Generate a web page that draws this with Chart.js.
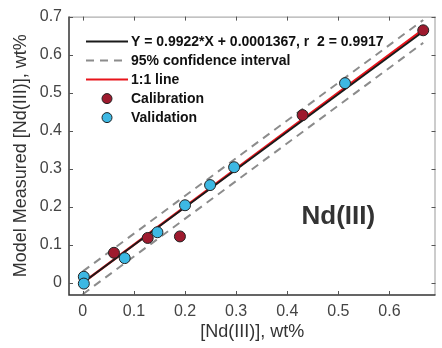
<!DOCTYPE html>
<html>
<head>
<meta charset="utf-8">
<script src="https://cdn.jsdelivr.net/npm/chart.js@4/dist/chart.umd.min.js"></script>
<style>
  html, body { margin: 0; padding: 0; background: #fff; }
  #wrap { width: 442px; height: 348px; }
</style>
</head>
<body>
<div id="wrap"><canvas id="graphique" width="442" height="348"></canvas></div>
<script>
/** Tick labels */
const xTicks = [0, 0.1, 0.2, 0.3, 0.4, 0.5, 0.6];
const yTicks = [0, 0.1, 0.2, 0.3, 0.4, 0.5, 0.6, 0.7];

/** Points */
const calX = [0.061, 0.127, 0.190, 0.430, 0.666];
const calY = [0.079, 0.118, 0.122, 0.441, 0.664];
const valX = [0.002, 0.002, 0.082, 0.146, 0.200, 0.249, 0.296, 0.513];
const valY = [0.016, -0.002, 0.065, 0.133, 0.204, 0.257, 0.304, 0.525];

/** Line endpoints */
const lineX = [0, 0.666];
const fitY = [0.0001, 0.661];
const oneY = [0, 0.666];
const ciUpY = [0.030, 0.691];
const ciLoY = [-0.030, 0.631];

const fitLabel = 'Y = 0.9922*X + 0.0001367, r  2 = 0.9917';
const annotation = 'Nd(III)';

const pts = (xs, ys) => xs.map((x, i) => ({ x: x, y: ys[i] }));

const police = 'Liberation Sans, Arial, sans-serif';

/** Box, inward ticks, legend and label */
const cadre = {
  id: 'cadre',
  afterDraw(chart) {
    const ctx = chart.ctx;
    const a = chart.chartArea;
    const sx = chart.scales.x;
    const sy = chart.scales.y;
    ctx.save();
    // box
    ctx.lineWidth = 1;
    ctx.strokeStyle = '#999';
    ctx.beginPath();
    ctx.moveTo(a.left, a.top + 0.5); ctx.lineTo(a.right, a.top + 0.5);
    ctx.moveTo(a.right - 0.5, a.top); ctx.lineTo(a.right - 0.5, a.bottom);
    ctx.stroke();
    ctx.lineWidth = 1.5;
    ctx.strokeStyle = '#333';
    ctx.beginPath();
    ctx.moveTo(a.left, a.top); ctx.lineTo(a.left, a.bottom); ctx.lineTo(a.right, a.bottom);
    ctx.stroke();
    // ticks
    ctx.lineWidth = 1;
    ctx.strokeStyle = '#555';
    ctx.beginPath();
    xTicks.forEach(v => {
      const px = Math.round(sx.getPixelForValue(v)) + 0.5;
      ctx.moveTo(px, a.bottom); ctx.lineTo(px, a.bottom - 4);
      ctx.moveTo(px, a.top); ctx.lineTo(px, a.top + 4);
    });
    yTicks.forEach(v => {
      const py = Math.round(sy.getPixelForValue(v)) + 0.5;
      ctx.moveTo(a.left, py); ctx.lineTo(a.left + 4, py);
      ctx.moveTo(a.right, py); ctx.lineTo(a.right - 4, py);
    });
    ctx.stroke();

    // legend
    const lx = a.left + 17;
    let ly = a.top + 25;
    const pas = 19;
    ctx.font = 'bold 14px ' + police;
    ctx.textBaseline = 'middle';
    ctx.fillStyle = '#111';
    chart.data.datasets.forEach(ds => {
      if (!ds.legende) { return; }
      if (ds.showLine) {
        ctx.lineWidth = 2;
        ctx.strokeStyle = ds.borderColor;
        ctx.setLineDash(ds.borderDash || []);
        ctx.beginPath();
        ctx.moveTo(lx, ly); ctx.lineTo(lx + 42, ly);
        ctx.stroke();
        ctx.setLineDash([]);
      } else {
        ctx.beginPath();
        ctx.arc(lx + 21, ly, 5, 0, Math.PI * 2);
        ctx.fillStyle = ds.backgroundColor;
        ctx.fill();
        ctx.lineWidth = 1;
        ctx.strokeStyle = '#222';
        ctx.stroke();
      }
      ctx.fillStyle = '#111';
      ctx.fillText(ds.label, lx + 45, ly + 1);
      ly += pas;
    });

    // annotation
    ctx.font = 'bold 26px ' + police;
    ctx.textAlign = 'center';
    ctx.fillStyle = '#333';
    ctx.fillText(annotation, sx.getPixelForValue(0.5), sy.getPixelForValue(0.174));
    ctx.restore();
  }
};

const data = {
  datasets: [
    { label: fitLabel, legende: 1, data: pts(lineX, fitY), showLine: true, borderColor: '#1a1a1a', borderWidth: 1.8, pointRadius: 0, order: 3 },
    { label: '95% confidence interval', legende: 1, data: pts(lineX, ciUpY), showLine: true, borderColor: '#8c8c8c', borderWidth: 2, borderDash: [8, 6], pointRadius: 0, order: 5 },
    { label: '1:1 line', legende: 1, data: pts(lineX, oneY), showLine: true, borderColor: '#e8141b', borderWidth: 2.4, pointRadius: 0, order: 4 },
    { label: 'Calibration', legende: 1, data: pts(calX, calY), backgroundColor: '#9e1a2e', borderColor: '#222', borderWidth: 1, pointRadius: 5.5, order: 1 },
    { label: 'Validation', legende: 1, data: pts(valX, valY), backgroundColor: '#3db8e3', borderColor: '#222', borderWidth: 1, pointRadius: 5.5, order: 0 },
    { label: 'ci-bas', data: pts(lineX, ciLoY), showLine: true, borderColor: '#8c8c8c', borderWidth: 2, borderDash: [8, 6], pointRadius: 0, order: 5 }
  ]
};

const options = {
  responsive: false,
  animation: false,
  devicePixelRatio: 1,
  layout: { padding: { top: 15, right: 0, left: 0, bottom: 0 } },
  plugins: { legend: { display: false }, tooltip: { enabled: false } },
  scales: {
    x: {
      type: 'linear', min: -0.027, max: 0.69,
      afterBuildTicks: s => { s.ticks = xTicks.map(v => ({ value: v })); },
      afterFit: s => { s.height = 53; },
      grid: { display: false, drawTicks: false },
      border: { display: false },
      ticks: { padding: 7, color: '#444', font: { family: police, size: 16 }, maxRotation: 0,
        callback: v => (v === 0 ? '0' : v.toFixed(1)) },
      title: { display: true, text: '[Nd(III)], wt%', color: '#333', font: { family: police, size: 18, lineHeight: 1.2 }, padding: { top: 0, bottom: 5 } }
    },
    y: {
      type: 'linear', min: -0.032, max: 0.7,
      afterBuildTicks: s => { s.ticks = yTicks.map(v => ({ value: v })); },
      afterFit: s => { s.width = 69; },
      grid: { display: false, drawTicks: false },
      border: { display: false },
      ticks: { padding: 7, color: '#444', font: { family: police, size: 16 },
        callback: v => (v === 0 ? '0' : v.toFixed(1)) },
      title: { display: true, text: 'Model Measured [Nd(III)], wt%', color: '#333', font: { family: police, size: 18, lineHeight: 1.2 }, padding: { top: 10, bottom: 0 } }
    }
  }
};

const ctx = document.getElementById('graphique').getContext('2d');
new Chart(ctx, { type: 'scatter', data, options, plugins: [cadre] });
</script>
</body>
</html>
